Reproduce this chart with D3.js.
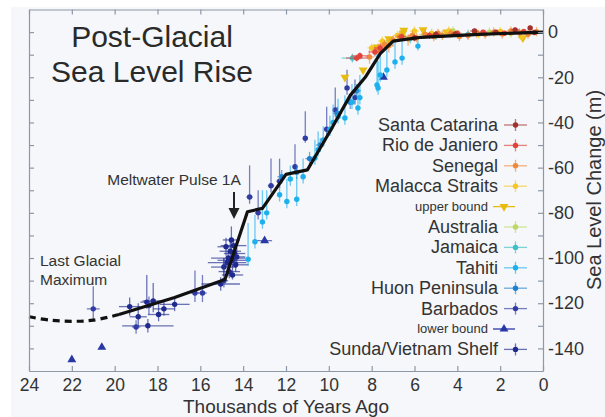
<!DOCTYPE html>
<html>
<head>
<meta charset="utf-8">
<script src="https://cdn.jsdelivr.net/npm/d3@7"></script>
<style>
  html, body { margin:0; padding:0; background:#fff; }
  svg { display:block; }
</style>
</head>
<body>
<div id="chart"></div>
<script>
// Post-glacial sea level rise: reconstructed sea level by site, with the smoothed curve

// [thousand years ago, metres, x error, y error below, y error above]
const santaCatarina = [[6.0,-2.6,0.2,1.5,1.5],[5.0,-1,0.2,1.5,1.5],[4.1,-0.8,0.2,1,1],[3.2,0.5,0.2,1,1],[2.2,0,0.2,1,1],[1.3,1,0.2,1,1],[0.6,1.8,0.1,1,1],[0.4,-0.2,0.2,1,1]];
const rioDeJaniero = [[8.7,-11.5,0.5,1.5,1.5],[8.55,-10.5,0.4,1.5,1.5],[7.85,-8.8,0.3,2,2],[7.6,-7,0.3,2,2],[6.6,-2,0.2,1.5,1.5],[5.3,-1.5,0.2,1.5,1.5],[4.0,-0.5,0.2,1,1],[2.8,0,0.2,1,1],[1.8,-0.5,0.2,1,1],[0.9,0.3,0.2,1,1]];
const senegal = [[8.1,-11,0.2,3,3],[7.7,-8,0.2,3,3],[7.4,-5.5,0.2,3,2],[7.0,-3.5,0.2,3,2],[6.7,-2,0.2,2,2],[6.3,-3,0.2,3,2],[5.9,-2.5,0.2,2,2],[5.5,-1,0.2,2,2],[5.1,-2,0.2,2,2],[4.7,-1.5,0.2,2,2],[4.3,-0.5,0.2,2,2],[3.9,-2,0.2,2,2],[3.5,-1.5,0.2,2,2],[3.1,-0.5,0.2,2,2],[2.7,-1,0.2,2,2],[2.3,0,0.2,2,2],[1.9,-0.8,0.2,2,2],[1.5,0.5,0.2,2,2],[1.1,-0.3,0.2,2,2],[0.7,-1,0.2,2,2],[0.3,0.2,0.2,2,2],[6.1,-1.5,0.2,2,2],[4.9,-0.5,0.2,2,2],[7.2,-6,0.2,3,2]];
const malaccaStraits = [[8.0,-7,0.2,2,2],[7.5,-4,0.2,2,2],[6.8,-1.5,0.2,2,2],[6.0,0.5,0.2,2,2],[5.2,-0.5,0.2,2,2],[4.4,0.5,0.2,2,2],[3.0,-1,0.2,2,2],[2.0,0.3,0.2,2,2],[1.0,-2.2,0.2,1.5,1.5]];
const upperBound = [[9.25,-20],[8.4,-16.8],[7.75,-6.6],[7.2,-3],[6.54,-0.4],[6.5,0.8],[5.6,1],[4.5,0],[0.94,-2.6]];
const australia = [[7.2,-4,0.3,2,2],[6.5,-2,0.3,2,2],[5.5,-1,0.3,2,2],[4.2,0.5,0.3,2,2],[2.5,0,0.3,2,2],[1.5,-0.5,0.3,2,2]];
const jamaica = [[8.9,-11.5,0.5,2,2],[7.3,-5.7,0.3,2,2],[6.2,-3,0.3,2,2],[5.0,-1.5,0.3,2,2],[3.5,-1,0.3,2,2]];
const tahiti = [[13.77,-100.5,0.1,3,16],[13.45,-92.8,0.1,3,12],[13.1,-84,0.1,3,14],[12.9,-80,0.1,3,10],[12.3,-72,0.1,3,10],[11.96,-75,0.1,3,10],[11.5,-74,0.1,3,10],[11.8,-65,0.1,3,6],[11.2,-64,0.1,3,8],[10.65,-55.7,0.1,3,8],[10.5,-52,0.1,3,8],[10.26,-47.7,0.1,3,6],[9.95,-43,0.1,3,6],[9.8,-40,0.1,3,8],[9.57,-37.5,0.1,3,8],[9.25,-38,0.1,3,10],[8.92,-31,0.1,3,8],[8.64,-33.6,0.1,3,10],[8.55,-29,0.1,3,10],[7.75,-23.4,0.1,3,14],[7.7,-24.7,0.1,3,12],[7.6,-19,0.1,3,12],[7.29,-16.8,0.1,3,10],[6.91,-13.2,0.1,3,10],[6.58,-11.5,0.1,3,8],[5.84,-6.2,0.1,2,4]];
const huonPeninsula = [[12.2,-64,0.2,3,3],[11.5,-62,0.2,3,3],[10.9,-56,0.2,3,3],[10.4,-50,0.2,3,3],[9.6,-36,0.2,3,3],[9.0,-31,0.2,3,3],[8.7,-26,0.2,3,3]];
const barbados = [[21.0,-122.5,0.3,5,10],[19.0,-130.5,0.2,3,3],[18.4,-121,0.2,4,4],[16.25,-115.5,0.2,4,10],[15.9,-115.5,0.2,4,8],[14.9,-110,0.2,3,10],[13.7,-73,0.15,3,14],[13.3,-80,0.15,3,10],[12.7,-68,0.15,3,12],[12.3,-66,0.15,3,10],[11.58,-59.6,0.1,3,10],[11.1,-47,0.1,2,12],[10.1,-43,0.1,3,10],[9.7,-34.5,0.1,3,10],[9.15,-24.7,0.1,3,8],[8.78,-29,0.1,3,8]];
const lowerBound = [[22.0,-145],[20.6,-139.5],[13.0,-92.3,0.35],[7.45,-20]];
const sundaShelf = [[19.3,-121.5,0.5,4,4],[18.9,-126,0.4,4,6],[18.5,-119.5,0.3,3,12],[18.45,-130,1.2,3,3],[18.2,-119,0.5,5,8],[17.95,-125,0.5,3,5],[17.7,-122.5,0.5,3,3],[17.2,-120.5,0.7,3,3],[15.05,-111.5,0.9,3,3],[14.9,-104,0.6,4,4],[14.7,-100,0.8,3,3],[14.6,-97,0.5,6,6],[14.5,-101,0.7,3,3],[14.4,-98,0.5,3,3],[14.8,-95,0.4,4,4],[14.55,-92,0.4,8,6],[14.35,-103,0.6,3,3],[14.65,-106,0.5,3,3],[14.45,-94.5,0.6,3,3],[14.3,-99.5,0.4,4,4],[14.75,-102,0.9,2,2],[14.5,-107.5,0.5,2,4]];

// smoothed sea level curve
const curveDashed = [[24,-126],[23,-127.5],[22,-128],[21,-127.5],[19.8,-125]];
const curveSolid = [[19.8,-125],[17.2,-117.5],[14.85,-109.5],[13.8,-79.5],[13.1,-78],[12.0,-63],[11.0,-61],[9.95,-44],[9.0,-28],[8.3,-20],[7.6,-9.5],[7.0,-4],[5.7,-2.3],[3.0,-1],[0,0]];

const xTicks = [24,22,20,18,16,14,12,10,8,6,4,2,0];
const yTicks = d3.range(-140, 1, 10);

const series = [
  {name:'Santa Catarina', color:'#a3302b', kind:'pt', data:santaCatarina},
  {name:'Rio de Janiero', color:'#e2423a', kind:'pt', data:rioDeJaniero},
  {name:'Senegal', color:'#f08a38', kind:'pt', data:senegal},
  {name:'Malacca Straits', color:'#f4c724', kind:'pt', data:malaccaStraits},
  {name:'upper bound', color:'#e8bb10', kind:'down', data:upperBound, small:true},
  {name:'Australia', color:'#bdd862', kind:'pt', data:australia},
  {name:'Jamaica', color:'#3cbfc6', kind:'pt', data:jamaica},
  {name:'Tahiti', color:'#1cb0ee', kind:'pt', data:tahiti},
  {name:'Huon Peninsula', color:'#1f80d0', kind:'pt', data:huonPeninsula},
  {name:'Barbados', color:'#313ca2', kind:'pt', data:barbados},
  {name:'lower bound', color:'#2a38a6', kind:'up', data:lowerBound, small:true},
  {name:'Sunda/Vietnam Shelf', color:'#1f2a8f', kind:'pt', data:sundaShelf}
];

const W = 605, H = 417;
const svg = d3.select('#chart').append('svg').attr('width',W).attr('height',H);
svg.append('rect').attr('x',11).attr('y',7).attr('width',W-11).attr('height',H-7).attr('fill','#f5f7fa');

const x = d3.scaleLinear().domain([24,0]).range([29,543]);
const y = d3.scaleLinear().domain([-150,10]).range([371,9.5]);
const axisColor = '#8d98a8', textColor = '#333';
const labelFont = '"Liberation Sans", Arial, sans-serif';

// plotting marks
const marks = svg.append('g');
const tri = d3.symbol().type(d3.symbolTriangle).size(34);
[...series].reverse().forEach(s => {
  const g = marks.append('g');
  s.data.forEach(d => {
    const [t, v, dx = 0, dn = 0, up = 0] = d;
    if (dx) g.append('line').attr('x1',x(t+dx)).attr('x2',x(t-dx)).attr('y1',y(v)).attr('y2',y(v))
      .attr('stroke',s.color).attr('stroke-opacity',0.65).attr('stroke-width',1.3);
    if (dn || up) g.append('line').attr('x1',x(t)).attr('x2',x(t)).attr('y1',y(v-dn)).attr('y2',y(v+up))
      .attr('stroke',s.color).attr('stroke-opacity',0.65).attr('stroke-width',1.3);
    if (s.kind === 'pt') g.append('circle').attr('cx',x(t)).attr('cy',y(v)).attr('r',2.7).attr('fill',s.color);
    else g.append('path').attr('d',tri)
      .attr('transform',`translate(${x(t)},${y(v)}) rotate(${s.kind==='down'?180:0})`).attr('fill',s.color);
  });
});

// smoothed curve on top
const line = d3.line().x(d=>x(d[0])).y(d=>y(d[1]));
svg.append('path').datum(curveDashed).attr('d',line.curve(d3.curveCatmullRom)).attr('fill','none')
  .attr('stroke','#111').attr('stroke-width',3.2).attr('stroke-dasharray','7,5');
svg.append('path').datum(curveSolid).attr('d',line.curve(d3.curveLinear)).attr('fill','none')
  .attr('stroke','#111').attr('stroke-width',3.2).attr('stroke-linejoin','round');

// axes frame with inward ticks
function styleAxis(size){
  return g => {
    g.selectAll('path,line').attr('stroke',axisColor).attr('stroke-width',1.2);
    g.selectAll('text').attr('fill',textColor).attr('font-family',labelFont).attr('font-size',size);
  };
}
svg.append('g').attr('transform','translate(0,371)')
  .call(d3.axisBottom(x).tickValues(xTicks).tickSizeInner(-5).tickSizeOuter(0).tickPadding(8).tickFormat(d=>d))
  .call(styleAxis(17.5));
svg.append('g').attr('transform','translate(0,9.5)')
  .call(d3.axisTop(x).tickValues(xTicks).tickSizeInner(-5).tickSizeOuter(0).tickFormat(''))
  .call(styleAxis(17.5));
svg.append('g').attr('transform','translate(29,0)')
  .call(d3.axisLeft(y).tickValues(yTicks).tickSizeInner(-5).tickSizeOuter(0).tickFormat(''))
  .call(styleAxis(17.5));
svg.append('g').attr('transform','translate(543,0)')
  .call(d3.axisRight(y).tickValues(yTicks).tickSizeInner(-5).tickSizeOuter(0).tickPadding(5)
    .tickFormat(d => d % 20 === 0 ? String(d) : ''))
  .call(styleAxis(18));

// axis titles
svg.append('text').attr('x',286).attr('y',413).attr('text-anchor','middle')
  .attr('font-family',labelFont).attr('font-size',19).attr('fill',textColor).text('Thousands of Years Ago');
svg.append('text').attr('transform',`translate(601,190) rotate(-90)`).attr('text-anchor','middle')
  .attr('font-family',labelFont).attr('font-size',20).attr('fill',textColor).text('Sea Level Change (m)');

// title
const titleFont = '"Liberation Sans", Arial, sans-serif';
svg.append('text').attr('x',152).attr('y',47).attr('text-anchor','middle').attr('font-family',titleFont)
  .attr('font-size',30).attr('fill','#2a2a2a').text('Post-Glacial');
svg.append('text').attr('x',152).attr('y',82).attr('text-anchor','middle').attr('font-family',titleFont)
  .attr('font-size',30).attr('fill','#2a2a2a').text('Sea Level Rise');

// annotations
svg.append('text').attr('x',174).attr('y',185).attr('text-anchor','middle').attr('font-family',labelFont)
  .attr('font-size',15.5).attr('fill',textColor).text('Meltwater Pulse 1A');
svg.append('line').attr('x1',234).attr('x2',234).attr('y1',192).attr('y2',210).attr('stroke','#222').attr('stroke-width',2);
svg.append('path').attr('d','M228.5,208 L239.5,208 L234,219 Z').attr('fill','#222');
svg.append('text').attr('x',40).attr('y',266).attr('font-family',labelFont).attr('font-size',15.5)
  .attr('fill',textColor).text('Last Glacial');
svg.append('text').attr('x',40).attr('y',285).attr('font-family',labelFont).attr('font-size',15.5)
  .attr('fill',textColor).text('Maximum');

// legend
const legend = svg.append('g');
series.forEach((s, i) => {
  const cy = 125 + i * 20.4;
  const g = legend.append('g').attr('transform',`translate(0,${cy})`);
  if (s.small) {
    g.append('text').attr('x',488).attr('y',4).attr('text-anchor','end').attr('font-family',labelFont)
      .attr('font-size',13).attr('fill',textColor).text(s.name);
    g.append('line').attr('x1',493).attr('x2',515).attr('stroke',s.color).attr('stroke-width',1.3);
    g.append('path').attr('d',tri).attr('transform',`translate(504,0) rotate(${s.kind==='down'?180:0})`).attr('fill',s.color);
  } else {
    g.append('text').attr('x',498).attr('y',6).attr('text-anchor','end').attr('font-family',labelFont)
      .attr('font-size',18).attr('fill',textColor).text(s.name);
    g.append('line').attr('x1',504).attr('x2',527).attr('stroke',s.color).attr('stroke-opacity',0.65).attr('stroke-width',1.3);
    g.append('line').attr('x1',515.5).attr('x2',515.5).attr('y1',-6).attr('y2',6).attr('stroke',s.color).attr('stroke-opacity',0.65).attr('stroke-width',1.3);
    g.append('circle').attr('cx',515.5).attr('cy',0).attr('r',2.7).attr('fill',s.color);
  }
});
</script>
</body>
</html>
